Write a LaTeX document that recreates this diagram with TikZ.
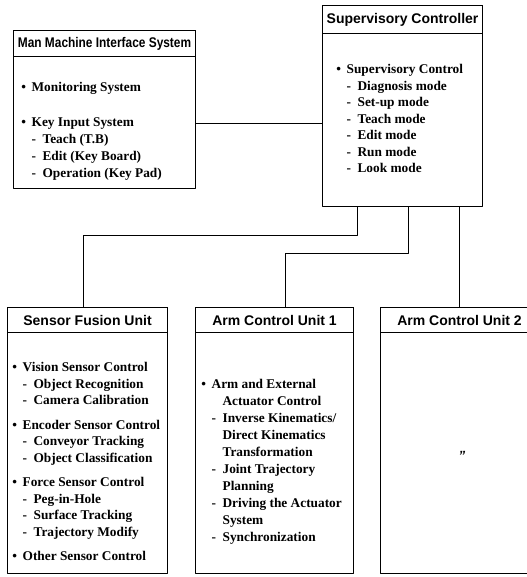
\documentclass[tikz,border=0pt]{standalone}
\usepackage{fontspec}
\setmainfont{Liberation Serif}
\setsansfont{Liberation Sans}
\usetikzlibrary{calc}
\newcommand\itm[1]{\makebox[0.78em][l]{\textbullet}#1}
\newcommand\subitm[1]{\hspace*{0.78em}\makebox[0.82em][l]{-}#1}
\newcommand\contd[1]{\hspace*{1.6em}#1}
\tikzset{
    ttl/.style={
        font=\sffamily\bfseries\fontsize{10.5}{12}\selectfont
    }
}
\begin{document}
\begin{tikzpicture}[x=0.75pt,y=-0.75pt, line cap=round, line join=round]

\tikzset{
  box/.style={draw=black, line width=0.8pt, anchor=north west, inner sep=0pt},
  head/.style={box, ttl},
  body/.style={anchor=north west, align=left, inner sep=0pt, font=\bfseries\fontsize{10}{12.4}\selectfont},
  wire/.style={draw=black, line width=0.8pt},
}

\useasboundingbox (0,0) rectangle (526,577);

% upper row
\node[box, minimum width=136.5pt, minimum height=118.5pt] (mmi) at (13,30) {};
\node[head, minimum width=136.5pt, minimum height=19.5pt] (mmihead) at (13,30) {\scalebox{0.85}[1]{Man Machine Interface System}};
\node[body, font=\bfseries\fontsize{10}{12.75}\selectfont] (mmitxt) at (21,82) {\itm{Monitoring System}\\[13.5pt]
  \itm{Key Input System}\\ \subitm{Teach (T.B)}\\ \subitm{Edit (Key Board)}\\ \subitm{Operation (Key Pad)}};

\node[box, minimum width=120pt, minimum height=150.75pt] (sup) at (322,5) {};
\node[head, minimum width=120pt, minimum height=21pt] (suphead) at (322,5) {Supervisory Controller};
\node[body] (suptxt) at (336,64) {\itm{Supervisory Control}\\ \subitm{Diagnosis mode}\\ \subitm{Set-up mode}\\
  \subitm{Teach mode}\\ \subitm{Edit mode}\\ \subitm{Run mode}\\ \subitm{Look mode}};

% lower row
\node[box, minimum width=120pt, minimum height=199.5pt] (sfu) at (7,307) {};
\node[head, minimum width=120pt, minimum height=18.75pt] (sfuhead) at (7,307) {Sensor Fusion Unit};
\node[body, font=\bfseries\fontsize{10}{12.375}\selectfont] (sfutxt) at (12,362) {\itm{Vision Sensor Control}\\ \subitm{Object Recognition}\\ \subitm{Camera Calibration}\\[6pt]
  \itm{Encoder Sensor Control}\\ \subitm{Conveyor Tracking}\\ \subitm{Object Classification}\\[6pt]
  \itm{Force Sensor Control}\\ \subitm{Peg-in-Hole}\\ \subitm{Surface Tracking}\\ \subitm{Trajectory Modify}\\[6pt]
  \itm{Other Sensor Control}};

\node[box, minimum width=118.5pt, minimum height=199.5pt] (acu1) at (195,307) {};
\node[head, minimum width=118.5pt, minimum height=18.75pt] (acu1head) at (195,307) {Arm Control Unit 1};
\node[body, font=\bfseries\fontsize{10}{12.75}\selectfont] (acu1txt) at (201,379) {\itm{Arm and External}\\ \contd{Actuator Control}\\ \subitm{Inverse Kinematics/}\\ \contd{Direct Kinematics}\\
  \contd{Transformation}\\ \subitm{Joint Trajectory}\\ \contd{Planning}\\ \subitm{Driving the Actuator}\\ \contd{System}\\ \subitm{Synchronization}};

\node[box, minimum width=118.5pt, minimum height=199.5pt] (acu2) at (380,307) {};
\node[head, minimum width=118.5pt, minimum height=18.75pt] (acu2head) at (380,307) {Arm Control Unit 2};
\node[font=\sffamily\bfseries\itshape] (ditto) at (462,456) {''};

% links
\draw[wire] (mmi.east) ++(0,14) coordinate (m1) -- (m1 -| sup.west);
\draw[wire] ([xshift=-33.75pt]sup.south) -- ++(0,28) -| ([xshift=-3pt]sfu.north);
\draw[wire] ([xshift=4.5pt]sup.south) -- ++(0,46) -| ([xshift=8.25pt]acu1.north);
\draw[wire] (acu2.north) -- (acu2.north |- sup.south);

\end{tikzpicture}
\end{document}
